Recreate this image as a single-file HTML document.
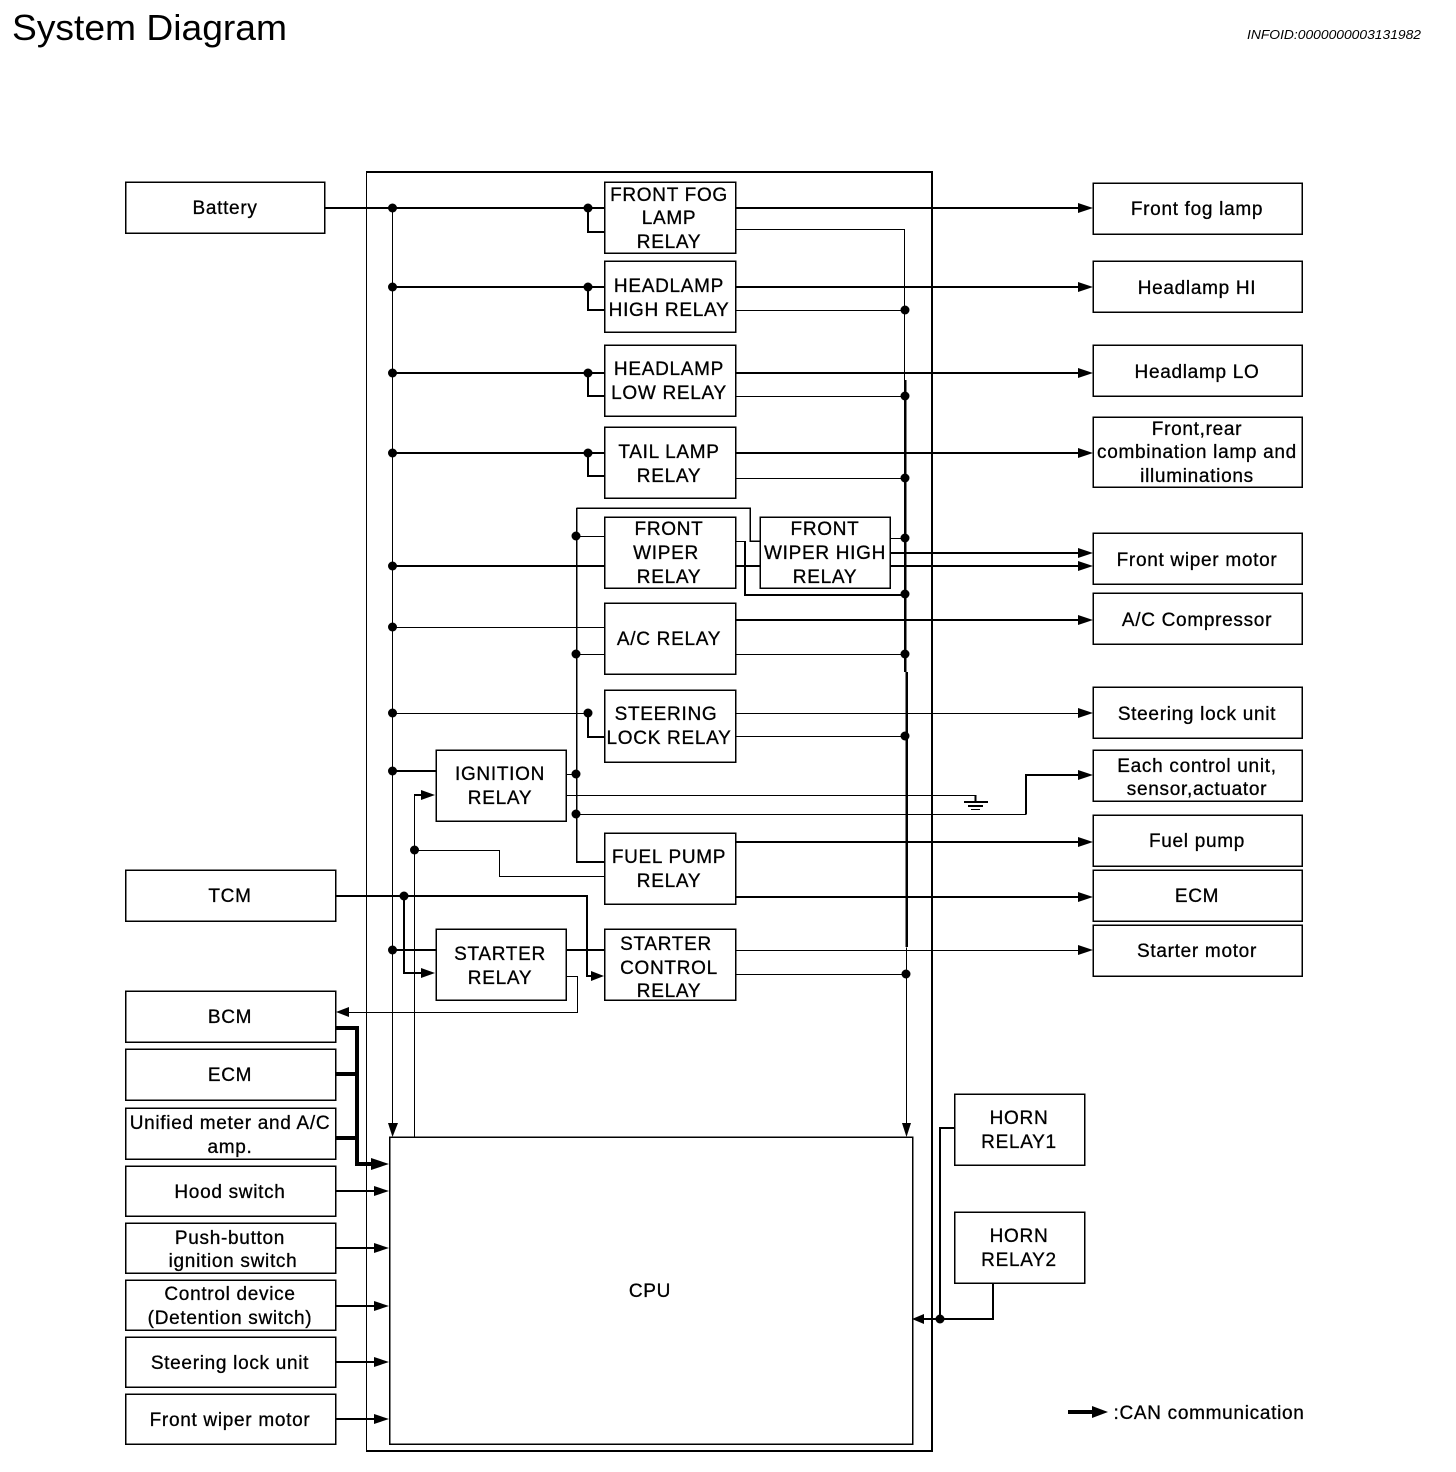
<!DOCTYPE html>
<html><head><meta charset="utf-8"><title>System Diagram</title>
<style>
html,body{margin:0;padding:0;background:#fff}
svg{display:block}
text{font-family:"Liberation Sans",sans-serif;fill:#000}
.t{font-size:19px;letter-spacing:.7px;text-anchor:middle;stroke:#000;stroke-width:.3px}
</style></head><body>
<svg width="1456" height="1472" viewBox="0 0 1456 1472" xmlns="http://www.w3.org/2000/svg">
<rect width="1456" height="1472" fill="#fff"/>
<text x="12" y="40" font-size="36.5" textLength="275" lengthAdjust="spacingAndGlyphs">System Diagram</text>
<text x="1247" y="39" font-size="12.5" font-style="italic" textLength="174" lengthAdjust="spacingAndGlyphs">INFOID:0000000003131982</text>

<g fill="none" stroke="#000" shape-rendering="crispEdges">
<!-- outer -->
<path stroke-width="2" d="M366 172H932V1451H366"/>
<path stroke-width="1" d="M366.500 171V1451"/>
<path stroke-width="2" d="M932 171V1451"/>
<!-- boxes -->
<g stroke-width="1.500">
<rect x="125.500" y="182" width="199" height="51"/>
<rect x="125.500" y="870" width="210" height="51"/>
<rect x="125.500" y="991" width="210" height="51"/>
<rect x="125.500" y="1049" width="210" height="51"/>
<rect x="125.500" y="1108" width="210" height="51"/>
<rect x="125.500" y="1166" width="210" height="50"/>
<rect x="125.500" y="1223" width="210" height="50"/>
<rect x="125.500" y="1280" width="210" height="50"/>
<rect x="125.500" y="1337" width="210" height="50"/>
<rect x="125.500" y="1394" width="210" height="50"/>
<rect x="1093" y="183" width="209" height="51"/>
<rect x="1093" y="261" width="209" height="51"/>
<rect x="1093" y="345" width="209" height="51"/>
<rect x="1093" y="417" width="209" height="70"/>
<rect x="1093" y="533" width="209" height="51"/>
<rect x="1093" y="593" width="209" height="51"/>
<rect x="1093" y="687" width="209" height="51"/>
<rect x="1093" y="750" width="209" height="51"/>
<rect x="1093" y="815" width="209" height="51"/>
<rect x="1093" y="870" width="209" height="51"/>
<rect x="1093" y="925" width="209" height="51"/>
<rect x="604.500" y="182" width="131" height="71"/>
<rect x="604.500" y="261" width="131" height="71"/>
<rect x="604.500" y="345" width="131" height="71"/>
<rect x="604.500" y="427" width="131" height="71"/>
<rect x="604.500" y="517" width="131" height="71"/>
<rect x="604.500" y="603" width="131" height="71"/>
<rect x="604.500" y="690" width="131" height="72"/>
<rect x="604.500" y="833" width="131" height="71"/>
<rect x="604.500" y="929" width="131" height="71"/>
<rect x="760" y="517" width="130" height="71"/>
<rect x="436" y="750" width="130" height="71"/>
<rect x="436" y="929" width="130" height="71"/>
<rect x="954.500" y="1094" width="130" height="71"/>
<rect x="954.500" y="1212" width="130" height="71"/>
<rect x="389.500" y="1137" width="523" height="307"/>
</g>
<!-- thin wires -->
<path transform="translate(.5,.5)" stroke-width="1" d="M392 208V1128
M392 627H604M392 713H588
M735 229H904V380M735 310H905M735 396H905M735 478H905M735 654H905M735 736H905M735 974H906
M576 536H604M576 654H604
M735 713H1082
M566 795H975M576 814H1026M566 774H576
M414 795V1137M414 850H499V876H604
M735 950H1082
M566 976H577V1012H346
M906 947V1128
M890 538H905
M735 541H745"/>
<path stroke-width="1.500" d="M576.500 508H750V541H760M576.500 508V862"/>
<!-- thick wires -->
<path stroke-width="2" d="M325 208H604M392 287H604M392 373H604M392 453H604M392 566H604
M588 208V232H604M588 287V310H604M588 373V396H604M588 453V476H604M588 713V737H604
M735 208H1082M735 287H1082M735 373H1082M735 453H1082M735 620H1082
M735 566H760M890 553H1082M890 566H1082
M745 541V595H905
M392 771H436M392 950H436
M414 795H424
M576 862H604
M735 842H1082M735 897H1082
M335 896H587V976H594
M404 896V973H424
M566 950H604
M1026 814V775H1082
M336 1191H378M336 1248H378M336 1306H378M336 1362H378M336 1419H378
M940 1319V1128H954
M993 1283V1319H922"/>
<path stroke-width="2.500" d="M905 380V672M906.500 672V947"/>
<!-- CAN -->
<path stroke-width="4" d="M335 1028H357M335 1074H357M335 1138H357M357 1026V1164H375M1068 1412H1095"/>
<!-- ground -->
<path stroke-width="2" d="M975.500 795V802M964 802H988M968 806H983"/>
<path stroke-width="1" d="M971 809.500H980"/>
</g>

<!-- arrowheads -->
<g fill="#000">
<polygon points="1093,208 1078,203 1078,213"/><polygon points="1093,287 1078,282 1078,292"/><polygon points="1093,373 1078,368 1078,378"/><polygon points="1093,453 1078,448 1078,458"/>
<polygon points="1093,553 1078,548 1078,558"/><polygon points="1093,566 1078,561 1078,571"/><polygon points="1093,620 1078,615 1078,625"/><polygon points="1093,713 1078,708 1078,718"/>
<polygon points="1093,775 1078,770 1078,780"/><polygon points="1093,842 1078,837 1078,847"/><polygon points="1093,897 1078,892 1078,902"/><polygon points="1093,950 1078,945 1078,955"/>
<polygon points="435,795 421,790 421,800"/><polygon points="435,973 421,968 421,978"/><polygon points="604,976 591,971 591,981"/>
<polygon points="336,1012 349,1007 349,1017"/>
<polygon points="392.500,1137 388,1123 398,1123"/><polygon points="906.500,1137 902,1123 911,1123"/>
<polygon points="389,1164 371,1158 371,1170"/><polygon points="389,1191 374,1186 374,1196"/><polygon points="389,1248 374,1243 374,1253"/><polygon points="389,1306 374,1301 374,1311"/><polygon points="389,1362 374,1357 374,1367"/><polygon points="389,1419 374,1414 374,1424"/>
<polygon points="912,1319 924,1314 924,1324"/>
<polygon points="1108,1412 1092,1406 1092,1418"/>
<!-- dots -->
<circle cx="392.500" cy="208" r="4.500"/><circle cx="392.500" cy="287" r="4.500"/><circle cx="392.500" cy="373" r="4.500"/><circle cx="392.500" cy="453" r="4.500"/><circle cx="392.500" cy="566" r="4.500"/><circle cx="392.500" cy="627" r="4.500"/><circle cx="392.500" cy="713" r="4.500"/><circle cx="392.500" cy="771" r="4.500"/><circle cx="392.500" cy="950" r="4.500"/>
<circle cx="588" cy="208" r="4.500"/><circle cx="588" cy="287" r="4.500"/><circle cx="588" cy="373" r="4.500"/><circle cx="588" cy="453" r="4.500"/><circle cx="588" cy="713" r="4.500"/>
<circle cx="905" cy="310" r="4.500"/><circle cx="905" cy="396" r="4.500"/><circle cx="905" cy="478" r="4.500"/><circle cx="905" cy="538" r="4.500"/><circle cx="905" cy="594" r="4.500"/><circle cx="905" cy="654" r="4.500"/><circle cx="905" cy="736" r="4.500"/><circle cx="906" cy="974" r="4.500"/>
<circle cx="576" cy="536" r="4.500"/><circle cx="576" cy="654" r="4.500"/><circle cx="576" cy="774" r="4.500"/><circle cx="576" cy="814" r="4.500"/>
<circle cx="414.500" cy="850" r="4.500"/><circle cx="404" cy="896" r="4.500"/><circle cx="940" cy="1319" r="4.500"/>
</g>

<!-- labels -->
<g class="labels">
<text class="t" x="225" y="214">Battery</text>
<text class="t" x="230" y="902">TCM</text>
<text class="t" x="230" y="1023">BCM</text>
<text class="t" x="230" y="1081">ECM</text>
<text class="t" x="230" y="1129">Unified meter and A/C</text>
<text class="t" x="230" y="1153">amp.</text>
<text class="t" x="230" y="1198">Hood switch</text>
<text class="t" x="230" y="1244">Push-button</text>
<text class="t" x="233" y="1267">ignition switch</text>
<text class="t" x="230" y="1300">Control device</text>
<text class="t" x="230" y="1324">(Detention switch)</text>
<text class="t" x="230" y="1369">Steering lock unit</text>
<text class="t" x="230" y="1426">Front wiper motor</text>

<text class="t" x="1197" y="215">Front fog lamp</text>
<text class="t" x="1197" y="294">Headlamp HI</text>
<text class="t" x="1197" y="378">Headlamp LO</text>
<text class="t" x="1197" y="435">Front,rear</text>
<text class="t" x="1197" y="458">combination lamp and</text>
<text class="t" x="1197" y="482">illuminations</text>
<text class="t" x="1197" y="566">Front wiper motor</text>
<text class="t" x="1197" y="626">A/C Compressor</text>
<text class="t" x="1197" y="720">Steering lock unit</text>
<text class="t" x="1197" y="772">Each control unit,</text>
<text class="t" x="1197" y="795">sensor,actuator</text>
<text class="t" x="1197" y="847">Fuel pump</text>
<text class="t" x="1197" y="902">ECM</text>
<text class="t" x="1197" y="957">Starter motor</text>

<text class="t" x="669" y="201">FRONT FOG</text>
<text class="t" x="669" y="224">LAMP</text>
<text class="t" x="669" y="248">RELAY</text>
<text class="t" x="669" y="292">HEADLAMP</text>
<text class="t" x="669" y="316">HIGH RELAY</text>
<text class="t" x="669" y="375">HEADLAMP</text>
<text class="t" x="669" y="399">LOW RELAY</text>
<text class="t" x="669" y="458">TAIL LAMP</text>
<text class="t" x="669" y="482">RELAY</text>
<text class="t" x="669" y="535">FRONT</text>
<text class="t" x="666" y="559">WIPER</text>
<text class="t" x="669" y="583">RELAY</text>
<text class="t" x="825" y="535">FRONT</text>
<text class="t" x="825" y="559">WIPER HIGH</text>
<text class="t" x="825" y="583">RELAY</text>
<text class="t" x="669" y="645">A/C RELAY</text>
<text class="t" x="666" y="720">STEERING</text>
<text class="t" x="669" y="744">LOCK RELAY</text>
<text class="t" x="500" y="780">IGNITION</text>
<text class="t" x="500" y="804">RELAY</text>
<text class="t" x="669" y="863">FUEL PUMP</text>
<text class="t" x="669" y="887">RELAY</text>
<text class="t" x="500" y="960">STARTER</text>
<text class="t" x="500" y="984">RELAY</text>
<text class="t" x="666" y="950">STARTER</text>
<text class="t" x="669" y="974">CONTROL</text>
<text class="t" x="669" y="997">RELAY</text>
<text class="t" x="1019" y="1124">HORN</text>
<text class="t" x="1019" y="1148">RELAY1</text>
<text class="t" x="1019" y="1242">HORN</text>
<text class="t" x="1019" y="1266">RELAY2</text>
<text class="t" x="650" y="1297">CPU</text>
<text class="t" x="1209" y="1419">:CAN communication</text>
</g>
</svg>
</body></html>
